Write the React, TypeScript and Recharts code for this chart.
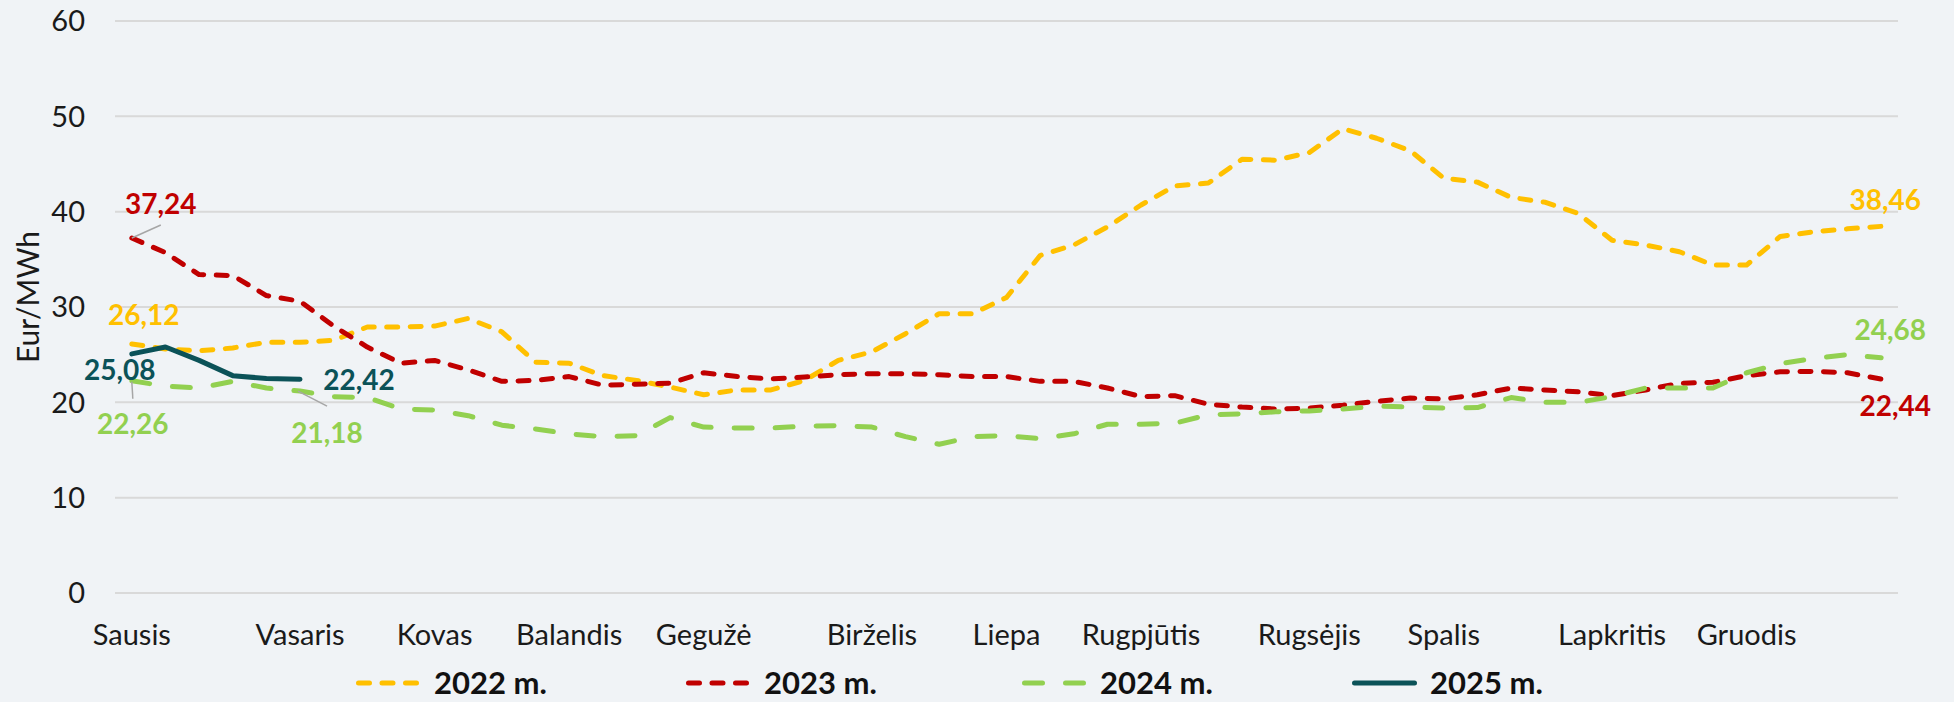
import React from 'react';
import { LineChart, Line, XAxis, YAxis, CartesianGrid, Legend } from 'recharts';

// weekly average prices, Eur/MWh (53 weeks)
const weeks = Array.from({ length: 53 }, (_, i) => i);

const y2022 = [
  26.12, 25.6, 25.4, 25.7, 26.3, 26.3, 26.5, 27.9, 27.9, 28.0, 28.8, 27.4, 24.2, 24.1, 22.8, 22.3, 21.6,
  20.8, 21.3, 21.3, 22.3, 24.4, 25.3, 27.2, 29.3, 29.3, 31.0, 35.4, 36.5, 38.4, 40.7, 42.7, 43.0, 45.5,
  45.4, 46.2, 48.7, 47.7, 46.4, 43.5, 43.1, 41.5, 41.0, 39.8, 37.0, 36.5, 35.8, 34.4, 34.4, 37.4, 37.9,
  38.2, 38.46,
];
const y2023 = [
  37.24, 35.7, 33.4, 33.3, 31.2, 30.6, 28.0, 25.8, 24.1, 24.4, 23.4, 22.2, 22.3, 22.7, 21.8, 21.9, 22.0,
  23.1, 22.7, 22.45, 22.65, 22.9, 23.0, 23.0, 22.9, 22.7, 22.7, 22.2, 22.2, 21.5, 20.6, 20.7, 19.8, 19.5,
  19.3, 19.4, 19.7, 20.1, 20.45, 20.35, 20.8, 21.5, 21.3, 21.1, 20.7, 21.3, 22.0, 22.1, 22.8, 23.2, 23.25,
  23.1, 22.44,
];
const y2024 = [
  22.26, 21.7, 21.5, 22.2, 21.5, 21.18, 20.6, 20.5, 19.3, 19.2, 18.6, 17.6, 17.2, 16.7, 16.4, 16.5, 18.4,
  17.4, 17.3, 17.3, 17.5, 17.55, 17.4, 16.4, 15.6, 16.4, 16.5, 16.2, 16.7, 17.7, 17.7, 17.8, 18.7, 18.8,
  19.0, 19.1, 19.3, 19.6, 19.5, 19.4, 19.45, 20.5, 20.0, 20.0, 20.6, 21.5, 21.5, 21.5, 23.1, 24.05, 24.6,
  25.0, 24.68,
];
const y2025 = [25.08, 25.8, 24.4, 22.8, 22.5, 22.42];

const monthTicks = [0, 5, 9, 13, 17, 22, 26, 30, 35, 39, 44, 48];
const monthNames = [
  'Sausis', 'Vasaris', 'Kovas', 'Balandis', 'Gegužė', 'Birželis',
  'Liepa', 'Rugpjūtis', 'Rugsėjis', 'Spalis', 'Lapkritis', 'Gruodis',
];
const yTicks = [0, 10, 20, 30, 40, 50, 60];

const data = weeks.map((i) => ({
  i,
  y2022: y2022[i],
  y2023: y2023[i],
  y2024: y2024[i],
  y2025: i < y2025.length ? y2025[i] : null,
}));

// tick marks sit between categories, like Excel
const boundaries = Array.from({ length: 54 }, (_, k) => k - 0.5);

const FONT = 'Lato, "Open Sans", sans-serif';
const GRID = '#D9D9D9';

const series = [
  { key: 'y2022', name: '2022 m.', color: '#FFC000', dash: '11 12.5', slot: 330 },
  { key: 'y2023', name: '2023 m.', color: '#C00000', dash: '11 12.5', slot: 336 },
  { key: 'y2024', name: '2024 m.', color: '#92D050', dash: '18 23', slot: 330 },
  { key: 'y2025', name: '2025 m.', color: '#0B5258', dash: undefined, slot: 220 },
];

// which points get a value label, and where it goes relative to the point
const labelSpots: Record<string, { index: number; dx: number; dy: number; leader?: number[] }[]> = {
  y2022: [
    { index: 0, dx: 12, dy: -30 },
    { index: 52, dx: 4, dy: -27 },
  ],
  y2023: [
    { index: 0, dx: 29, dy: -35, leader: [0, 0, 29, -13] },
    { index: 52, dx: 14, dy: 26 },
  ],
  y2024: [
    { index: 0, dx: 1, dy: 42, leader: [0, 1, 1, 18] },
    { index: 5, dx: 27, dy: 41, leader: [-2, 0, 27, 15] },
    { index: 52, dx: 9, dy: -29 },
  ],
  y2025: [
    { index: 0, dx: -12, dy: 15 },
    { index: 5, dx: 59, dy: 0 },
  ],
};

const fmt = (v: number) => v.toFixed(2).replace('.', ',');

function makeLabel(key: string, color: string) {
  return (props: any) => {
    const { x, y, index, value } = props;
    const spot = labelSpots[key].find((s) => s.index === index);
    if (!spot || value == null) return <g key={`l-${key}-${index}`} />;
    return (
      <g key={`l-${key}-${index}`}>
        {spot.leader && (
          <line
            x1={x + spot.leader[0]}
            y1={y + spot.leader[1]}
            x2={x + spot.leader[2]}
            y2={y + spot.leader[3]}
            stroke="#A6A6A6"
            strokeWidth={1.5}
          />
        )}
        <text
          x={x + spot.dx}
          y={y + spot.dy}
          textAnchor="middle"
          dominantBaseline="central"
          fill={color}
          fontFamily={FONT}
          fontWeight={700}
          fontSize={28}
        >
          {fmt(value)}
        </text>
      </g>
    );
  };
}

function LegendContent() {
  return (
    <div style={{ display: 'flex', paddingLeft: 356, paddingTop: 18, fontFamily: FONT }}>
      {series.map((s) => (
        <div key={s.key} style={{ display: 'flex', alignItems: 'center', height: 31, width: s.slot }}>
          <svg width={65} height={12} style={{ marginRight: 13, flexShrink: 0 }}>
            <line
              x1={2.5}
              y1={6}
              x2={62.5}
              y2={6}
              stroke={s.color}
              strokeWidth={5}
              strokeLinecap="round"
              strokeDasharray={s.dash}
            />
          </svg>
          <span style={{ fontSize: 31, fontWeight: 700, color: '#111', lineHeight: '31px', whiteSpace: 'nowrap' }}>
            {s.name}
          </span>
        </div>
      ))}
    </div>
  );
}

function YLabel(props: any) {
  const { viewBox } = props;
  const cx = viewBox.x + 27;
  const cy = viewBox.y + viewBox.height / 2 - 10;
  return (
    <text
      x={cx}
      y={cy}
      transform={`rotate(-90, ${cx}, ${cy})`}
      textAnchor="middle"
      dominantBaseline="central"
      fontFamily={FONT}
      fontSize={30}
      fill="#1a1a1a"
    >
      Eur/MWh
    </text>
  );
}

export default function App() {
  return (
    <div style={{ position: 'absolute', left: 0, top: 0, width: 1954, height: 702, background: '#F0F3F6' }}>
      <LineChart width={1954} height={702} data={data} margin={{ top: 21, right: 56, bottom: 0, left: 0 }}>
        <CartesianGrid vertical={false} stroke={GRID} strokeWidth={2} />
        <YAxis
          domain={[0, 60]}
          ticks={yTicks}
          width={115}
          axisLine={false}
          tickLine={false}
          tickSize={0}
          tickMargin={30}
          tick={{ fontFamily: FONT, fontSize: 29, fill: '#1a1a1a' }}
          label={<YLabel />}
        />
        <XAxis
          dataKey="i"
          type="number"
          domain={[-0.5, 52.5]}
          ticks={boundaries}
          interval={0}
          tick={false}
          tickSize={10}
          height={12}
          axisLine={{ stroke: GRID, strokeWidth: 2 }}
          tickLine={{ stroke: GRID, strokeWidth: 2 }}
        />
        <XAxis
          xAxisId="m"
          dataKey="i"
          type="number"
          domain={[-0.5, 52.5]}
          ticks={monthTicks}
          interval={0}
          tickFormatter={(v) => monthNames[monthTicks.indexOf(v)] ?? ''}
          axisLine={false}
          tickLine={false}
          tickSize={0}
          tickMargin={19}
          height={44}
          tick={{ fontFamily: FONT, fontSize: 29, fill: '#1a1a1a' }}
        />
        <Legend
          verticalAlign="bottom"
          height={53}
          wrapperStyle={{ left: 0, width: 1954 }}
          content={<LegendContent />}
        />
        {series.map((s) => (
          <Line
            key={s.key}
            dataKey={s.key}
            name={s.name}
            type="linear"
            stroke={s.color}
            strokeWidth={5}
            strokeDasharray={s.dash}
            strokeLinecap="round"
            strokeLinejoin="round"
            dot={false}
            activeDot={false}
            isAnimationActive={false}
            label={makeLabel(s.key, s.color)}
          />
        ))}
      </LineChart>
    </div>
  );
}
